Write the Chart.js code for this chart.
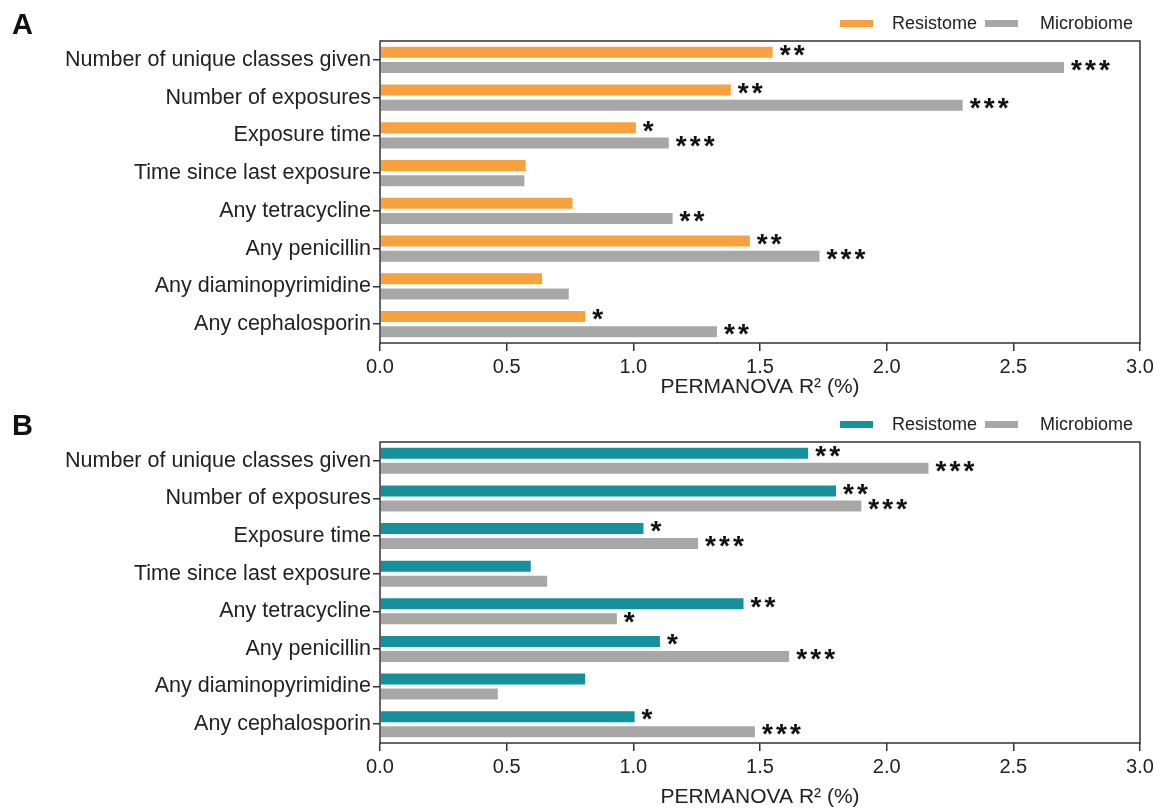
<!DOCTYPE html>
<html>
<head>
<meta charset="utf-8">
<script src="https://cdn.jsdelivr.net/npm/chart.js@4/dist/chart.umd.min.js"></script>
<style>
  body { margin: 0; background: #fff; font-family: "Liberation Sans", Arial, sans-serif; }
  .panel { position: absolute; left: 0; width: 1160px; }
  .letter { position: absolute; left: 12px; font-weight: bold; font-size: 29px; line-height: 29px; color: #111; }
  .legend { position: absolute; left: 0; width: 1160px; height: 20px; font-size: 18px; color: #222; }
  .legend span { position: absolute; top: 0; line-height: 20px; }
  .legend i { position: absolute; top: 7px; width: 33px; height: 7px; }
</style>
</head>
<body>
<div class="panel" style="top:0;height:400px;">
  <canvas id="chartA" width="1160" height="400"></canvas>
</div>
<div class="letter" style="top:10px;">A</div>
<div class="legend" id="legendA" style="top:13px;"></div>

<div class="panel" style="top:400px;height:412px;">
  <canvas id="chartB" width="1160" height="412"></canvas>
</div>
<div class="letter" style="top:411px;">B</div>
<div class="legend" id="legendB" style="top:414px;"></div>
<script>
'use strict';

// 項目（上から順）
const categories = [
  'Number of unique classes given',
  'Number of exposures',
  'Exposure time',
  'Time since last exposure',
  'Any tetracycline',
  'Any penicillin',
  'Any diaminopyrimidine',
  'Any cephalosporin',
];
const seriesNames = ['Resistome', 'Microbiome'];
const xTicks = [0, 0.5, 1.0, 1.5, 2.0, 2.5, 3.0];

// A
const resistomeA = [1.55, 1.385, 1.01, 0.575, 0.76, 1.46, 0.64, 0.81];
const microbiomeA = [2.70, 2.30, 1.14, 0.57, 1.155, 1.735, 0.745, 1.33];
const resistomeStarsA = ['**', '**', '*', '', '', '**', '', '*'];
const microbiomeStarsA = ['***', '***', '***', '', '**', '***', '', '**'];

// B
const resistomeB = [1.69, 1.80, 1.04, 0.595, 1.435, 1.105, 0.81, 1.005];
const microbiomeB = [2.165, 1.90, 1.255, 0.66, 0.935, 1.615, 0.465, 1.48];
const resistomeStarsB = ['**', '**', '*', '', '**', '*', '', '*'];
const microbiomeStarsB = ['***', '***', '***', '', '*', '***', '', '***'];

const colorOrange = '#F8A23F';
const colorTeal = '#16909A';
const colorGray = '#A7A7A7';
const textColor = '#222';
const fontName = '"Liberation Sans", Arial, sans-serif';

// 凡例（右上）
function makeLegend(id, resColor) {
  const el = document.getElementById(id);
  el.innerHTML =
    '<i style="left:840px;background:' + resColor + '"></i>' +
    '<span style="left:892px">' + seriesNames[0] + '</span>' +
    '<i style="left:985px;background:' + colorGray + '"></i>' +
    '<span style="left:1040px">' + seriesNames[1] + '</span>';
}

// 枠線と有意差の * を描くプラグイン
const framePlugin = {
  id: 'frame',
  afterDatasetsDraw(chart) {
    const { ctx, chartArea } = chart;
    ctx.save();
    ctx.strokeStyle = '#333';
    ctx.lineWidth = 1.5;
    ctx.strokeRect(chartArea.left, chartArea.top, chartArea.right - chartArea.left, chartArea.bottom - chartArea.top);

    ctx.fillStyle = '#111';
    ctx.font = 'bold 28px ' + fontName;
    ctx.textAlign = 'left';
    ctx.textBaseline = 'middle';
    chart.data.datasets.forEach((ds, i) => {
      const meta = chart.getDatasetMeta(i);
      meta.data.forEach((bar, j) => {
        const s = ds.stars[j];
        for (let k = 0; k < s.length; k++) {
          ctx.fillText('*', bar.x + 7 + k * 14, bar.y + 4);
        }
      });
    });
    ctx.restore();
  },
};

function makeChart(id, resVals, micVals, resStars, micStars, resColor, padTop, xHeight, titleBottom) {
  return new Chart(document.getElementById(id), {
    type: 'bar',
    data: {
      labels: categories,
      datasets: [
        { label: seriesNames[0], data: resVals, stars: resStars, backgroundColor: resColor },
        { label: seriesNames[1], data: micVals, stars: micStars, backgroundColor: colorGray },
      ],
    },
    options: {
      indexAxis: 'y',
      responsive: false,
      animation: false,
      layout: { padding: { left: 0, right: 20, top: padTop, bottom: 0 } },
      datasets: {
        bar: { categoryPercentage: 0.795, barPercentage: 0.733, borderWidth: 0 },
      },
      plugins: {
        tooltip: { enabled: false },
        legend: { display: false },
      },
      scales: {
        x: {
          min: 0,
          max: 3,
          afterBuildTicks: (scale) => {
            scale.ticks = xTicks.map((v) => ({ value: v }));
          },
          afterFit: (scale) => {
            scale.height = xHeight;
          },
          ticks: {
            color: textColor,
            padding: 4,
            font: { family: fontName, size: 20 },
            callback: (v) => Number(v).toFixed(1),
          },
          grid: { display: true, drawOnChartArea: false, drawTicks: true, tickLength: 8, color: '#333', lineWidth: 1.5 },
          border: { display: false },
          title: {
            display: true,
            text: 'PERMANOVA R\u00B2 (%)',
            color: textColor,
            font: { family: fontName, size: 21 },
            padding: { top: 0, bottom: titleBottom },
          },
        },
        y: {
          afterFit: (scale) => {
            scale.width = 380;
          },
          ticks: {
            color: textColor,
            padding: 2,
            font: { family: fontName, size: 21.5 },
          },
          grid: { display: true, drawOnChartArea: false, drawTicks: true, tickLength: 7, color: '#333', lineWidth: 1.5, offset: false },
          border: { display: false },
        },
      },
    },
    plugins: [framePlugin],
  });
}

makeLegend('legendA', colorOrange);
makeLegend('legendB', colorTeal);
makeChart('chartA', resistomeA, microbiomeA, resistomeStarsA, microbiomeStarsA, colorOrange, 41, 57, 0.5);
makeChart('chartB', resistomeB, microbiomeB, resistomeStarsB, microbiomeStarsB, colorTeal, 42, 69, 2.4);
</script>
</body>
</html>
